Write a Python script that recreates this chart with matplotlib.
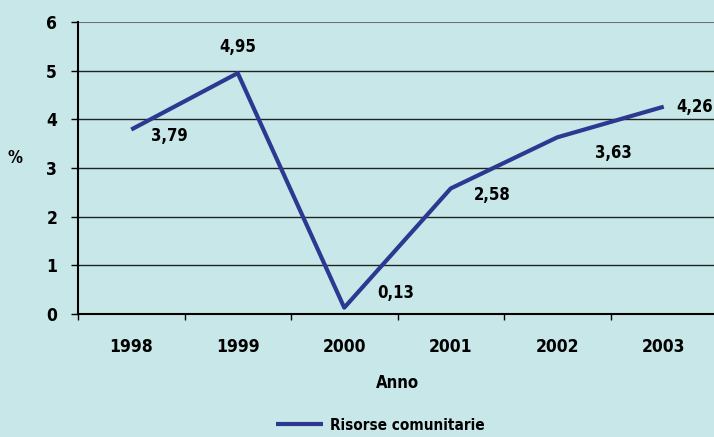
import matplotlib
matplotlib.use('Agg')
import matplotlib.pyplot as plt
import numpy as np
from matplotlib.ticker import FixedLocator

years = ['1998', '1999', '2000', '2001', '2002', '2003']
risorse = [3.79, 4.95, 0.13, 2.58, 3.63, 4.26]
value_labels = ['3,79', '4,95', '0,13', '2,58', '3,63', '4,26']

# offsets (points) for each value label
label_offsets = [(14, -5), (0, 19), (24, 10.5), (16.5, -5), (27, -11.5), (9, 0)]
label_align = ['left', 'center', 'left', 'left', 'left', 'left']

bg = '#c8e7e9'
line_color = '#2b3990'

plt.rcParams['font.family'] = ['DejaVu Sans']
plt.rcParams['font.stretch'] = 'condensed'
plt.rcParams['font.weight'] = 'bold'
plt.rcParams['axes.labelweight'] = 'bold'

fig = plt.figure(figsize=(7.14, 4.37), dpi=100, facecolor=bg)
ax = fig.add_axes([78 / 714, 123 / 437, 639 / 714, 292 / 437])
ax.set_facecolor(bg)

x = np.arange(len(years))
ax.plot(x, risorse, color=line_color, linewidth=3, solid_capstyle='butt',
        label='Risorse comunitarie')

for xi, v, txt, off, ha in zip(x, risorse, value_labels, label_offsets, label_align):
    ax.annotate(txt, (xi, v), xytext=off, textcoords='offset points',
                ha=ha, va='center', fontsize=12, fontweight='bold',
                fontstretch='condensed')

ax.set_xlim(-0.5, len(years) - 0.5)
ax.set_ylim(0, 6)
ax.set_yticks(range(7))
ax.set_yticklabels([str(i) for i in range(7)])
ax.set_xticks(x)
ax.set_xticklabels(years)
ax.xaxis.set_minor_locator(FixedLocator(np.arange(-0.5, len(years), 1)))
ax.tick_params(axis='x', which='major', length=0, pad=17, labelsize=12.5)
ax.tick_params(axis='x', which='minor', length=4, width=1, direction='out')
ax.tick_params(axis='y', length=5, width=1, pad=10, labelsize=12.5)

for yv in range(1, 6):
    ax.axhline(yv, color='#222222', linewidth=1, zorder=0)
ax.axhline(6, color='#707070', linewidth=1.5, zorder=0)

for side in ['top', 'right']:
    ax.spines[side].set_visible(False)
ax.spines['left'].set_linewidth(1.5)
ax.spines['bottom'].set_linewidth(1.5)

fig.text(15 / 714, 1 - 158 / 437, '%', ha='center', va='center',
         fontsize=12, fontweight='bold', fontstretch='condensed')
fig.text(397 / 714, 1 - 383 / 437, 'Anno', ha='center', va='center',
         fontsize=12, fontweight='bold', fontstretch='condensed')

leg = ax.legend(loc='center', bbox_to_anchor=((380 - 78) / 639, (314 - 425) / 292),
                frameon=False, fontsize=11, handlelength=3.1,
                handletextpad=0.45, borderaxespad=0, borderpad=0)
for t in leg.get_texts():
    t.set_fontstretch('condensed')

fig.savefig('out.png', dpi=100, facecolor=bg)
